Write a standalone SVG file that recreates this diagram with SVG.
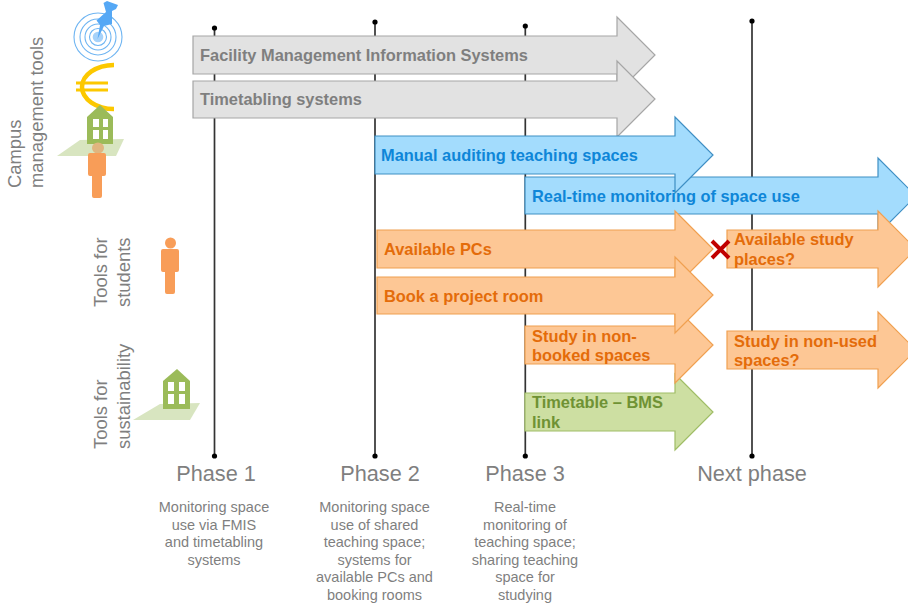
<svg xmlns="http://www.w3.org/2000/svg" width="908" height="605" viewBox="0 0 908 605">
<style>
text{font-family:"Liberation Sans",Arial,sans-serif}
.ph{font-size:21.7px;fill:#7f7f7f;text-anchor:middle}
.de{font-size:14.5px;fill:#7f7f7f;text-anchor:middle}
.sd{font-size:18.4px;fill:#7f7f7f;text-anchor:start}
.l{font-size:16.4px;font-weight:bold}
.a{stroke-width:1.2;stroke-linejoin:miter}
.gr polygon{fill:#e2e2e2;stroke:#a6a6a6}.gr text{fill:#7f7f7f}
.bl polygon{fill:#a3dcfd;stroke:#3f8fc4}.bl text{fill:#0e86d8}
.or polygon{fill:#fdc795;stroke:#f0a050}.or text{fill:#e46c0a}
.ge polygon{fill:#cddfa2;stroke:#a0bd66}.ge text{fill:#6f9234}
.v{stroke:#333;stroke-width:1.7}
.o{fill:#f89d58}.h{fill:#9bbb59}.p{fill:#d8e5c0}.w{fill:#fff}
.r{fill:none;stroke:#6fb5f2;stroke-width:1.1}
</style>
<g id="connectors">
<line class="v" x1="214.500" y1="28" x2="214.500" y2="456"/><circle cx="214.500" cy="28" r="2.600"/><circle cx="214.500" cy="456" r="2.600"/>
<line class="v" x1="375" y1="22" x2="375" y2="456"/><circle cx="375" cy="22" r="2.600"/><circle cx="375" cy="456" r="2.600"/>
<line class="v" x1="525.300" y1="26" x2="525.300" y2="456"/><circle cx="525.300" cy="26" r="2.600"/><circle cx="525.300" cy="456" r="2.600"/>
<line class="v" x1="752" y1="21" x2="752" y2="456"/><circle cx="752" cy="21" r="2.600"/><circle cx="752" cy="456" r="2.600"/>
</g>
<g id="arrow-fmis" class="a gr"><polygon points="193,36 617,36 617,17 655,55 617,93 617,74 193,74"/><text class="l" x="200" y="61">Facility Management Information Systems</text></g>
<g id="arrow-timetabling" class="a gr"><polygon points="193,81 617,81 617,61 655,99 617,137 617,118 193,118"/><text class="l" x="200" y="105">Timetabling systems</text></g>
<g id="arrow-realtime" class="a bl"><polygon points="525,177 878,177 878,158 916,196 878,234 878,214 525,214"/></g>
<g id="arrow-manual" class="a bl"><polygon points="375,136 675,136 675,117 713,155 675,193 675,174 375,174"/><text class="l" x="381" y="161">Manual auditing teaching spaces</text></g>
<g id="label-realtime" class="bl"><text class="l" x="532" y="202">Real-time monitoring of space use</text></g>
<g id="arrow-timetable-bms" class="a ge"><polygon points="525,393 675,393 675,374 713,412 675,450 675,431 525,431"/><text class="l"><tspan x="532" y="408">Timetable – BMS</tspan><tspan x="532" y="428">link</tspan></text></g>
<g id="arrow-non-booked" class="a or"><polygon points="525,326 675,326 675,307 713,345 675,383 675,364 525,364"/><text class="l"><tspan x="532" y="342">Study in non-</tspan><tspan x="532" y="361">booked spaces</tspan></text></g>
<g id="arrow-pcs" class="a or"><polygon points="377,230 675,230 675,211 713,249 675,287 675,268 377,268"/><text class="l" x="384" y="255">Available PCs</text></g>
<g id="arrow-project-room" class="a or"><polygon points="377,277 675,277 675,257 713,295 675,333 675,314 377,314"/><text class="l" x="384" y="302">Book a project room</text></g>
<g id="arrow-study-places" class="a or"><polygon points="727,230 878,230 878,211 916,249 878,287 878,268 727,268"/><text class="l"><tspan x="734" y="245">Available study</tspan><tspan x="734" y="265">places?</tspan></text></g>
<g id="arrow-non-used" class="a or"><polygon points="727,331 878,331 878,312 916,350 878,388 878,369 727,369"/><text class="l"><tspan x="734" y="347">Study in non-used</tspan><tspan x="734" y="366">spaces?</tspan></text></g>
<g id="cross"><path d="M712,241 L729,258 M729,241 L712,258" stroke="#c00000" stroke-width="4" fill="none"/></g>
<g id="icon-target">
<circle class="r" cx="98" cy="37" r="24"/><circle class="r" cx="98" cy="37" r="18"/><circle class="r" cx="98" cy="37" r="13"/><circle class="r" cx="98" cy="37" r="8.500"/><circle cx="98" cy="37" r="5.300" fill="#a6d2fa"/>
<path d="M97.500,39 L100,25 L96.500,20.500 L106,12 L103.500,3 L107,1 L118,5 L116,9 L112,11 L112,24 L104,26Z" fill="#55a8f5"/>
</g>
<g id="icon-euro"><path d="M114,65 A32,22 0 0 0 114,109" fill="none" stroke="#fcc800" stroke-width="4.500"/><path d="M76,83 H108 M76,90 H108" stroke="#fcc800" stroke-width="3"/></g>
<g id="icon-sustainability-campus"><polygon class="p" points="57,156 80,140 124,139 116,156"/><polygon class="h" points="87,117 100,105 113,117 113,144 87,144"/><path class="w" d="M93,119h6v8h-6zM103,119h5v8h-5zM93,130h6v9h-6zM103,130h5v9h-5z"/></g>
<g id="icon-person-campus"><ellipse cx="98" cy="148" rx="6" ry="5.500" fill="#e0b57f"/><path class="o" d="M90,153H104a2,2 0 0 1 2,2V174a2,2 0 0 1-2,2H102V196a2,2 0 0 1-2,2H94a2,2 0 0 1-2-2V176H90a2,2 0 0 1-2-2V155a2,2 0 0 1 2-2Z"/></g>
<g id="icon-person-students"><circle class="o" cx="170.500" cy="243" r="5.500"/><path class="o" d="M163,249H177a2,2 0 0 1 2,2V270a2,2 0 0 1-2,2H175V292a2,2 0 0 1-2,2H167a2,2 0 0 1-2-2V272H163a2,2 0 0 1-2-2V251a2,2 0 0 1 2-2Z"/></g>
<g id="icon-sustainability"><polygon class="p" points="133,420 160,404 200,403 190,420"/><polygon class="h" points="163,381 177,369 190,381 190,409 163,409"/><path class="w" d="M168,382h6v9h-6zM179,382h6v9h-6zM168,394h6v10h-6zM179,394h6v10h-6z"/></g>
<g id="side-campus"><text class="sd" transform="translate(21,188) rotate(-90)">Campus</text><text class="sd" transform="translate(43,188) rotate(-90)">management tools</text></g>
<g id="side-students"><text class="sd" transform="translate(106.500,307) rotate(-90)">Tools for</text><text class="sd" transform="translate(129.500,307) rotate(-90)">students</text></g>
<g id="side-sustainability"><text class="sd" transform="translate(106.500,449) rotate(-90)">Tools for</text><text class="sd" transform="translate(129.500,449) rotate(-90)">sustainability</text></g>
<g id="phase-1"><text class="ph" x="216" y="481">Phase 1</text><text class="de"><tspan x="214" y="512">Monitoring space</tspan><tspan x="214" y="530">use via FMIS</tspan><tspan x="214" y="547">and timetabling</tspan><tspan x="214" y="565">systems</tspan></text></g>
<g id="phase-2"><text class="ph" x="380" y="481">Phase 2</text><text class="de"><tspan x="374.500" y="512">Monitoring space</tspan><tspan x="374.500" y="530">use of shared</tspan><tspan x="374.500" y="547">teaching space;</tspan><tspan x="374.500" y="565">systems for</tspan><tspan x="374.500" y="582">available PCs and</tspan><tspan x="374.500" y="600">booking rooms</tspan></text></g>
<g id="phase-3"><text class="ph" x="525" y="481">Phase 3</text><text class="de"><tspan x="525" y="512">Real-time</tspan><tspan x="525" y="530">monitoring of</tspan><tspan x="525" y="547">teaching space;</tspan><tspan x="525" y="565">sharing teaching</tspan><tspan x="525" y="582">space for</tspan><tspan x="525" y="600">studying</tspan></text></g>
<g id="phase-next"><text class="ph" x="752" y="481">Next phase</text></g>
</svg>
